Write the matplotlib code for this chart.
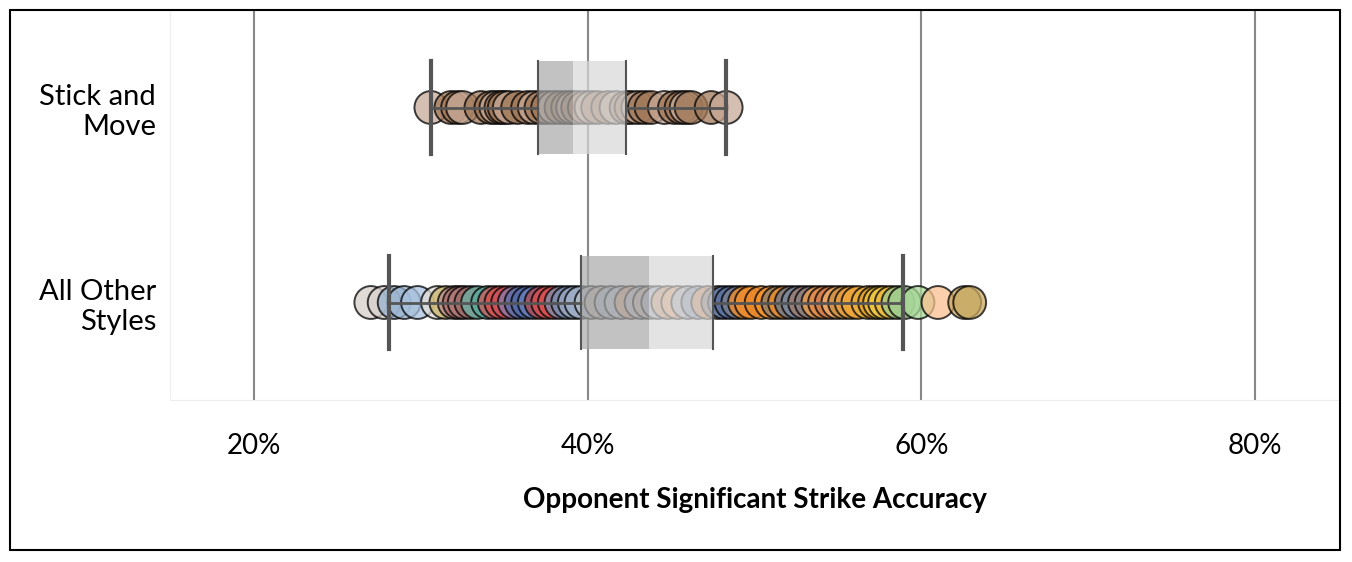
import matplotlib
matplotlib.use("Agg")
import matplotlib.pyplot as plt
from matplotlib.patches import Rectangle

categories = ["Stick and Move", "All Other Styles"]
stick_vals = [30.6, 31.8, 32.2, 32.5, 33.6, 34.2, 34.5, 34.8, 35.0, 35.3, 35.8, 36.4, 36.8, 37.2, 37.6,
              38.0, 38.4, 38.8, 39.1, 39.4, 39.8, 40.2, 40.6, 41.2, 41.7, 42.3, 42.6, 43.0, 43.4, 43.8,
              44.6, 45.2, 45.6, 45.9, 46.2, 47.4, 48.3]
other_vals = [27.0, 27.8, 28.4, 29.0, 29.8, 31.0, 31.5, 32.0, 32.3, 32.6, 33.0, 33.4, 34.0, 34.4, 34.8,
              35.2, 35.6, 36.0, 36.4, 36.8, 37.2, 37.6, 38.0, 38.4, 38.8, 39.2, 39.6, 40.2, 40.8, 41.4,
              42.0, 42.6, 43.2, 43.7, 44.2, 44.8, 45.4, 46.0, 46.6, 47.2, 47.8, 48.2, 48.6, 49.0, 49.4,
              49.8, 50.4, 51.0, 51.4, 51.8, 52.2, 52.6, 53.0, 53.4, 53.8, 54.2, 54.6, 55.0, 55.4, 55.8,
              56.2, 56.8, 57.2, 57.5, 57.8, 58.2, 58.6, 59.0, 59.8, 61.0, 62.6, 62.9]
other_colors = ["#d7cfcc", "#d7cfcc", "#9bb4d1", "#9bb4d1", "#a8c2de", "#e0dcd8", "#c9b46a", "#b88a8a", "#a86b6b",
                "#b07a78", "#9a6a66", "#6bb3a8", "#5aa89a", "#c95c5c", "#d94f4f", "#c8505a", "#8a7ba8",
                "#5a6ea8", "#4e6aa8", "#6a7fb5", "#b04a50", "#d95050", "#d95050", "#7a8fb0", "#7a8fb0",
                "#9aa8c0", "#a0b0c8", "#b4bcc8", "#c0b0a8", "#a8b8d0", "#c0c8d8", "#e8a880", "#b8c8e0",
                "#d0b8a8", "#a8b8d0", "#e8a070", "#f0b080", "#a8b8d0", "#8898b0", "#e89050", "#7a7a80",
                "#5a78a8", "#5a70a0", "#7a8090", "#f28e2b", "#f28e2b", "#e8882a", "#f59530", "#8a8070",
                "#f28e2b", "#6a7890", "#7a8aa0", "#a07a70", "#8a8080", "#f0a050", "#e08a4a", "#d07a50",
                "#f0b070", "#c89040", "#e8a040", "#f0a838", "#e8b040", "#e0a030", "#f0c040", "#edc948",
                "#e8b840", "#a0c890", "#9fcf8f", "#a8d898", "#f8c090", "#c8a860", "#c8a860"]
stick_colors = ["#a07858" if i % 3 else "#c8aa98" for i in range(len(stick_vals))]
stats = {  # whisker low, q1, median, q3, whisker high
    "Stick and Move": (30.6, 37.0, 39.1, 42.3, 48.3),
    "All Other Styles": (28.1, 39.6, 43.7, 47.5, 58.9),
}
xticks = [20, 40, 60, 80]

plt.rcParams['font.family'] = ['Lato', 'DejaVu Sans']
fig = plt.figure(figsize=(13.52, 5.62), dpi=100)
fig.patches.append(Rectangle((10/1352, 12/562), 1330/1352, 540/562, transform=fig.transFigure,
                             fill=False, edgecolor="black", linewidth=1.5))
ax = fig.add_axes([170/1352, 162/562, 1170/1352, 390/562])
ax.set_xlim(14.96, 85.1)
ax.set_ylim(2, 0)
for x in xticks:
    ax.axvline(x, color="#888888", lw=1.5, zorder=0)
ypos = {"Stick and Move": 0.5, "All Other Styles": 1.5}
for vals, cols, cat in [(stick_vals, stick_colors, categories[0]), (other_vals, other_colors, categories[1])]:
    y = ypos[cat]
    ax.scatter(vals, [y]*len(vals), s=560, c=cols, alpha=0.75, edgecolors="black", linewidths=1.4, zorder=2)
    lo, q1, med, q3, hi = stats[cat]
    ax.plot([lo, q1], [y, y], color="#555555", lw=2, zorder=3)
    ax.plot([q3, hi], [y, y], color="#555555", lw=2, zorder=3)
    h = 0.24
    ax.add_patch(Rectangle((q1, y-h), med-q1, 2*h, facecolor="#a9a9a9", alpha=0.7, zorder=4, lw=0))
    ax.add_patch(Rectangle((med, y-h), q3-med, 2*h, facecolor="#d8d8d8", alpha=0.7, zorder=4, lw=0))
    for xv in (q1, q3):
        ax.plot([xv, xv], [y-h, y+h], color="#555555", lw=1.5, zorder=5)
    for xv in (lo, hi):
        ax.plot([xv, xv], [y-h, y+h], color="#555555", lw=3, zorder=5)
for s in ["top", "right"]:
    ax.spines[s].set_visible(False)
ax.spines["bottom"].set_color("#eeeeee")
ax.spines["left"].set_color("#eeeeee")
ax.set_xticks(xticks)
ax.set_xticklabels([f"{x}%" for x in xticks], fontsize=20)
ax.tick_params(length=0, pad=24)
ax.set_yticks([0.5, 1.5])
ax.set_yticklabels(["Stick and\nMove", "All Other\nStyles"], fontsize=21)
ax.tick_params(axis="y", pad=10)
ax.set_xlabel("Opponent Significant Strike Accuracy", fontsize=20, fontweight="bold", labelpad=20)
fig.savefig("out.png", dpi=100)
